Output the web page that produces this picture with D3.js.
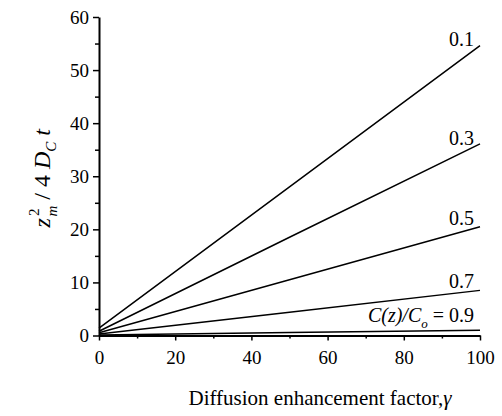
<!DOCTYPE html>
<html>
<head>
<meta charset="utf-8">
<script src="https://cdn.jsdelivr.net/npm/d3@7"></script>
<style>
  body { margin: 0; background: #fff; }
  svg text { font-family: "Liberation Serif", "Times New Roman", Times, serif !important; fill: #000; }
</style>
</head>
<body>
<svg id="chart"></svg>
<script>
// data
const gamma = [0, 50, 100];
const ratios = ['0.1', '0.3', '0.5', '0.7', '0.9'];
const line01 = [1.4, 28.0, 54.6];
const line03 = [0.8, 18.5, 36.1];
const line05 = [0.5, 10.5, 20.5];
const line07 = [0.3, 4.4, 8.5];
const line09 = [0.1, 0.55, 1.0];
const series = [line01, line03, line05, line07, line09];
const xTicks = [0, 20, 40, 60, 80, 100];
const yTicks = [0, 10, 20, 30, 40, 50, 60];

const W = 502, H = 416;
const margin = {top: 17, right: 22, bottom: 80, left: 99};

const svg = d3.select('#chart')
  .attr('width', W)
  .attr('height', H);

const x = d3.scaleLinear().domain([0, 100]).range([margin.left, W - margin.right]);
const y = d3.scaleLinear().domain([0, 60]).range([335.5, margin.top]);

// lines
const line = d3.line()
  .x((d, i) => x(gamma[i]))
  .y(d => y(d));

svg.selectAll('.curve')
  .data(series)
  .enter()
  .append('path')
  .attr('class', 'curve')
  .attr('d', d => line(d))
  .attr('fill', 'none')
  .attr('stroke', '#000')
  .attr('stroke-width', 1.5);

// x axis
svg.append('g')
  .attr('transform', `translate(0, ${y(0)})`)
  .call(d3.axisBottom(x).tickValues(xTicks).tickSize(5).tickSizeOuter(0).tickPadding(10));

svg.append('g')
  .attr('transform', `translate(0, ${y(0)})`)
  .call(d3.axisBottom(x).tickValues([10, 30, 50, 70, 90]).tickSize(3).tickFormat('').tickSizeOuter(0))
  .select('.domain').remove();

// y axis
svg.append('g')
  .attr('transform', `translate(${x(0)}, 0)`)
  .call(d3.axisLeft(y).tickValues(yTicks).tickSize(6).tickSizeOuter(0).tickPadding(4));

svg.append('g')
  .attr('transform', `translate(${x(0)}, 0)`)
  .call(d3.axisLeft(y).tickValues([5, 15, 25, 35, 45, 55]).tickSize(4).tickFormat('').tickSizeOuter(0))
  .select('.domain').remove();

svg.selectAll('.domain').attr('stroke-width', 2).attr('stroke', '#000');
svg.selectAll('.tick line').attr('stroke-width', 1.5).attr('stroke', '#000');
svg.selectAll('.tick text')
  .attr('font-size', 19)
  .attr('fill', '#000');

// line labels
const labelDy = [0, 1, -2, -2, -8];
ratios.forEach((r, i) => {
  const t = svg.append('text')
    .attr('x', x(100) - 6)
    .attr('y', y(series[i][series[i].length - 1]) + labelDy[i])
    .attr('text-anchor', 'end')
    .attr('font-size', 20);
  if (i === ratios.length - 1) {
    t.append('tspan').attr('font-style', 'italic').text('C(z)/C');
    t.append('tspan').attr('font-style', 'italic').attr('font-size', 13).attr('dy', 6).text('o');
    t.append('tspan').attr('dy', -6).text(' = ' + r);
  } else {
    t.text(r);
  }
});

// x title
svg.append('text')
  .attr('x', 320)
  .attr('y', 405)
  .attr('text-anchor', 'middle')
  .attr('font-size', 21)
  .text('Diffusion enhancement factor,')
  .append('tspan')
  .attr('font-style', 'italic')
  .text('γ');

// y title
const yt = svg.append('text')
  .attr('transform', `translate(50, ${(y(0) + y(60)) / 2 + 2}) rotate(-90)`)
  .attr('text-anchor', 'middle')
  .attr('font-size', 24);
yt.append('tspan').attr('font-style', 'italic').text('z');
yt.append('tspan').attr('font-size', 15).attr('dx', 2).attr('dy', -11).text('2');
yt.append('tspan').attr('font-size', 15).attr('font-style', 'italic').attr('dx', -8).attr('dy', 18).text('m');
yt.append('tspan').attr('dy', -7).text(' / 4 ');
yt.append('tspan').attr('font-style', 'italic').text('D');
yt.append('tspan').attr('font-size', 15).attr('font-style', 'italic').attr('dy', 6).text('C');
yt.append('tspan').attr('font-style', 'italic').attr('dy', -6).text(' t');
</script>
</body>
</html>
